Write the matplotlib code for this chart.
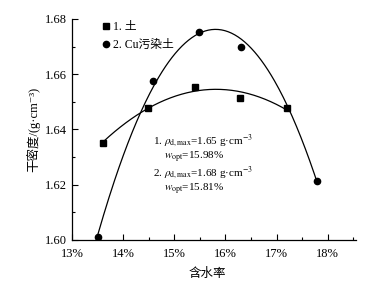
import matplotlib
matplotlib.use("Agg")

import matplotlib.pyplot as plt
import numpy as np
from matplotlib.ticker import MultipleLocator, FuncFormatter

plt.rcParams["font.family"] = ["Liberation Serif", "Noto Sans CJK SC", "DejaVu Serif"]
plt.rcParams["mathtext.fontset"] = "stix"

# 1. 土
w_soil = [13.60, 14.48, 15.40, 16.29, 17.21]
rho_soil = [1.635, 1.6478, 1.6554, 1.6514, 1.6478]

# 2. Cu污染土
w_cu = [13.51, 14.58, 15.48, 16.31, 17.80]
rho_cu = [1.601, 1.6576, 1.6754, 1.6699, 1.6214]

legend_labels = ["1. 土", "2. Cu污染土"]
x_ticks = [13, 14, 15, 16, 17, 18]
y_ticks = [1.60, 1.62, 1.64, 1.66, 1.68]

fig = plt.figure(figsize=(3.73, 2.83), dpi=100)
ax = fig.add_axes([0.193, 0.152, 0.761, 0.781])

for w, rho, marker, label in [(w_soil, rho_soil, "s", legend_labels[0]),
                              (w_cu, rho_cu, "o", legend_labels[1])]:
    coef = np.polyfit(w, rho, 2)
    xs = np.linspace(min(w), max(w), 200)
    ax.plot(xs, np.polyval(coef, xs), color="black", lw=0.9)
    ax.plot(w, rho, linestyle="none", marker=marker, color="black",
            markersize=4.5, label=label)

ax.set_xlim(13, 18.55)
ax.set_ylim(1.60, 1.68)
ax.set_xticks(x_ticks)
ax.set_yticks(y_ticks)
ax.xaxis.set_minor_locator(MultipleLocator(0.5))
ax.yaxis.set_minor_locator(MultipleLocator(0.01))
ax.xaxis.set_major_formatter(FuncFormatter(lambda v, p: f"{v:.0f}%"))
ax.yaxis.set_major_formatter(FuncFormatter(lambda v, p: f"{v:.2f}"))
ax.tick_params(which="both", direction="in", labelsize=9, width=0.8)
ax.tick_params(axis="x", which="major", length=4, pad=6)
ax.tick_params(axis="y", which="major", length=4, pad=4)
ax.tick_params(which="minor", length=2.5)
for s in ["top", "right"]:
    ax.spines[s].set_visible(False)
for s in ["left", "bottom"]:
    ax.spines[s].set_linewidth(0.9)

ax.set_xlabel("含水率", fontsize=9, labelpad=3)
ax.xaxis.set_label_coords(0.475, -0.125)
ax.set_ylabel("干密度/(g·cm⁻³)", fontsize=9, labelpad=3)

ax.legend(loc="upper left", bbox_to_anchor=(0.065, 1.04), frameon=False,
          fontsize=8.5, handlelength=0.8, handletextpad=0.25, labelspacing=0.55)

note_kw = dict(transform=ax.transAxes, fontsize=8, va="center")
ax.text(0.285, 0.445, r"1. $\rho_{\mathrm{d,max}}$=1.65 g·cm$^{-3}$", **note_kw)
ax.text(0.325, 0.375, r"$w_{\mathrm{opt}}$=15.98%", **note_kw)
ax.text(0.285, 0.30, r"2. $\rho_{\mathrm{d,max}}$=1.68 g·cm$^{-3}$", **note_kw)
ax.text(0.325, 0.23, r"$w_{\mathrm{opt}}$=15.81%", **note_kw)

fig.savefig("out.png", dpi=100, facecolor="white")
